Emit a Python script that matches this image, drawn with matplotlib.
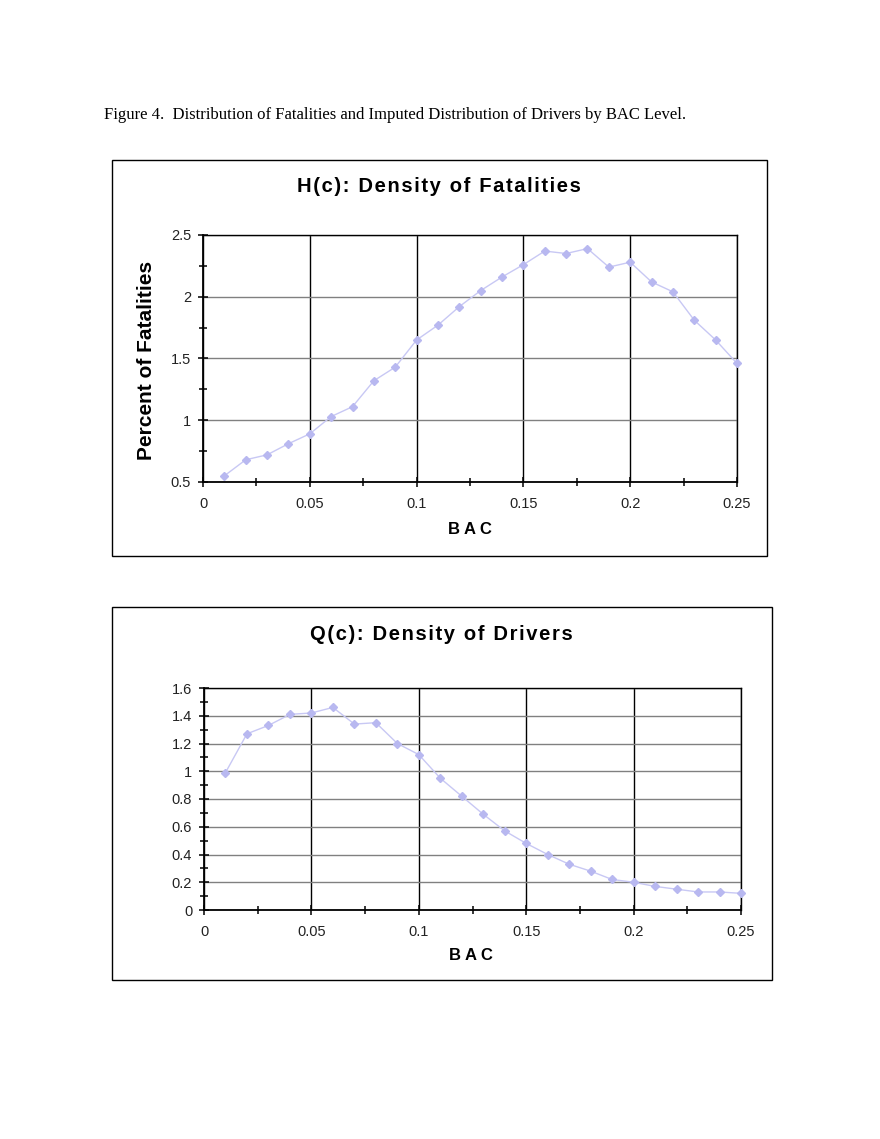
import numpy as np
import matplotlib.pyplot as plt
from matplotlib.patches import Rectangle
from matplotlib.ticker import MultipleLocator, FuncFormatter

# BAC levels and densities
bac = [0.01, 0.02, 0.03, 0.04, 0.05, 0.06, 0.07, 0.08, 0.09, 0.10,
       0.11, 0.12, 0.13, 0.14, 0.15, 0.16, 0.17, 0.18, 0.19, 0.20,
       0.21, 0.22, 0.23, 0.24, 0.25]
h_fatalities = [0.55, 0.68, 0.72, 0.81, 0.89, 1.03, 1.11, 1.32, 1.43, 1.65,
                1.77, 1.92, 2.05, 2.16, 2.26, 2.37, 2.35, 2.39, 2.24, 2.28,
                2.12, 2.04, 1.81, 1.65, 1.46]
q_drivers = [0.99, 1.27, 1.33, 1.41, 1.42, 1.46, 1.34, 1.35, 1.20, 1.12,
             0.95, 0.82, 0.69, 0.57, 0.48, 0.40, 0.33, 0.28, 0.22, 0.20,
             0.17, 0.15, 0.13, 0.13, 0.12]
x_ticks = [0, 0.05, 0.1, 0.15, 0.2, 0.25]

W, H = 880, 1139
fig = plt.figure(figsize=(W / 100, H / 100), dpi=100)
plt.rcParams['font.family'] = ['Liberation Sans', 'DejaVu Sans']

LINE = '#c8c8f4'
MARK = '#b8b8f0'


def px_rect(x0, y0, x1, y1):
    # pixel box -> figure fraction [left, bottom, width, height]
    return [x0 / W, 1 - y1 / H, (x1 - x0) / W, (y1 - y0) / H]


def frame(x0, y0, x1, y1):
    l, b, w, h = px_rect(x0, y0, x1, y1)
    fig.patches.append(Rectangle((l, b), w, h, transform=fig.transFigure,
                                 fill=False, edgecolor='black', lw=1.0))


def spaced(s):
    # excel-style loose letter spacing
    return '\u200a'.join(s)


def fmt(v, pos):
    return '%g' % round(v, 4)


def style_axes(ax, ymin, ymax, ymaj, ymin_step):
    ax.set_xlim(0, 0.25)
    ax.set_ylim(ymin, ymax)
    ax.set_xticks(x_ticks)
    ax.xaxis.set_minor_locator(MultipleLocator(0.025))
    ax.yaxis.set_major_locator(MultipleLocator(ymaj))
    ax.yaxis.set_minor_locator(MultipleLocator(ymin_step))
    ax.xaxis.set_major_formatter(FuncFormatter(fmt))
    ax.yaxis.set_major_formatter(FuncFormatter(fmt))
    ax.grid(axis='x', which='major', color='black', lw=1.0)
    ax.grid(axis='y', which='major', color='#808080', lw=1.0)
    ax.set_axisbelow(True)
    for side in ['top', 'right']:
        ax.spines[side].set_color('black')
        ax.spines[side].set_linewidth(1.0)
    for side in ['left', 'bottom']:
        ax.spines[side].set_linewidth(1.3)
    ax.tick_params(which='both', direction='inout', width=1.1, labelsize=10.5,
                   labelcolor='#222222', top=False, right=False)
    ax.tick_params(which='major', length=7)
    ax.tick_params(which='minor', length=6)
    ax.tick_params(axis='x', pad=7)
    ax.tick_params(axis='y', pad=5)


fig.text(104 / W, 1 - 115 / H,
         'Figure 4.  Distribution of Fatalities and Imputed Distribution of Drivers by BAC Level.',
         family=['Liberation Serif', 'DejaVu Serif'], fontsize=12, va='center', ha='left')

# top chart
frame(112, 160, 767, 556)
ax1 = fig.add_axes(px_rect(203, 235, 737, 482))
ax1.plot(bac, h_fatalities, color=LINE, lw=1.0, marker='D', ms=4.5,
         mfc=MARK, mec=MARK, clip_on=False, zorder=5)
style_axes(ax1, 0.5, 2.5, 0.5, 0.25)
fig.text(439 / W, 1 - 186 / H, spaced('H(c): Density of Fatalities'), fontsize=14.5,
         fontweight='bold', ha='center', va='center')
fig.text(146 / W, 1 - 360 / H, 'Percent of Fatalities', fontsize=15,
         fontweight='bold', ha='center', va='center', rotation=90)
fig.text(470 / W, 1 - 530 / H, 'B A C', fontsize=12, fontweight='bold',
         ha='center', va='center')

# bottom chart
frame(112, 607, 772, 980)
ax2 = fig.add_axes(px_rect(204, 688, 741, 910))
ax2.plot(bac, q_drivers, color=LINE, lw=1.0, marker='D', ms=4.5,
         mfc=MARK, mec=MARK, clip_on=False, zorder=5)
style_axes(ax2, 0, 1.6, 0.2, 0.1)
fig.text(441 / W, 1 - 634 / H, spaced('Q(c): Density of Drivers'), fontsize=14.5,
         fontweight='bold', ha='center', va='center')
fig.text(471 / W, 1 - 955 / H, 'B A C', fontsize=12, fontweight='bold',
         ha='center', va='center')

fig.savefig('out.png', dpi=100)
